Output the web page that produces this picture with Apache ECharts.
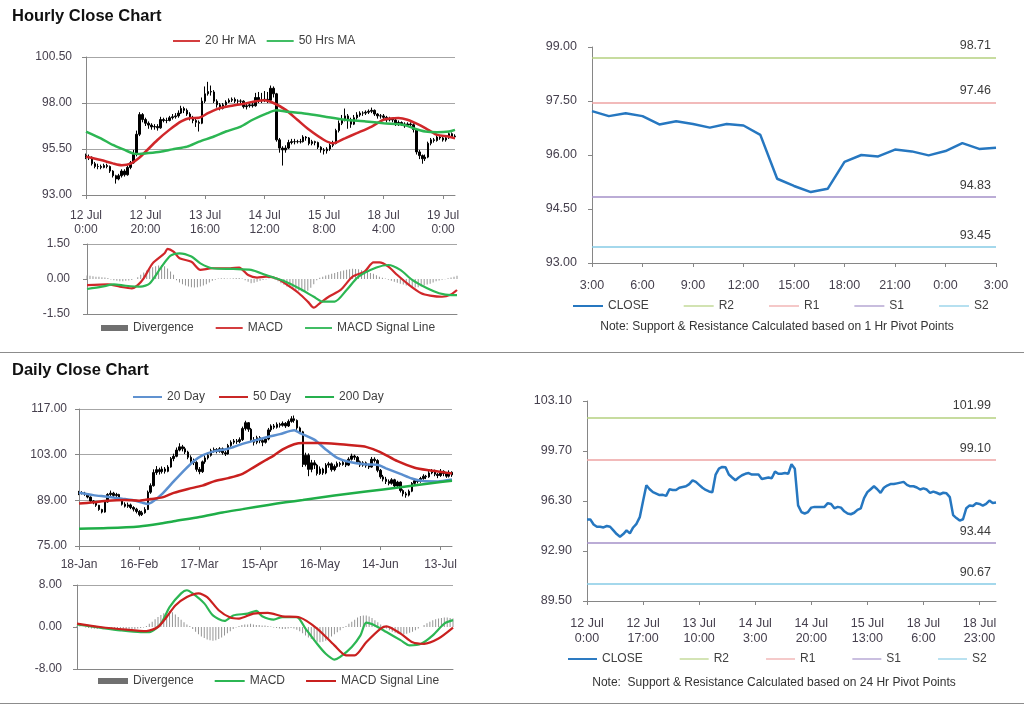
<!DOCTYPE html>
<html><head><meta charset="utf-8">
<script src="https://cdn.jsdelivr.net/npm/echarts@6/dist/echarts.min.js"></script>
<style>html,body{margin:0;padding:0;background:#fff}#c{width:1024px;height:706px}</style>
</head><body><div id="c"></div>
<script>
// ---------------- DATA ----------------
const hourTickLabels = ['12 Jul\n0:00','12 Jul\n20:00','13 Jul\n16:00','14 Jul\n12:00','15 Jul\n8:00','18 Jul\n4:00','19 Jul\n0:00'];
const pivotHourTickLabels = ['3:00','6:00','9:00','12:00','15:00','18:00','21:00','0:00','3:00'];
const hourCloseTickLabels = ['12 Jul\n0:00','12 Jul\n17:00','13 Jul\n10:00','14 Jul\n3:00','14 Jul\n20:00','15 Jul\n13:00','18 Jul\n6:00','18 Jul\n23:00'];
const dayTickLabels = ['18-Jan','16-Feb','17-Mar','15-Apr','16-May','14-Jun','13-Jul'];

const hourYTicks = [93, 95.5, 98, 100.5];
const hourMacdTicks = [-1.5, 0, 1.5];
const pivotHourYTicks = [93, 94.5, 96, 97.5, 99];
const dayYTicks = [75, 89, 103, 117];
const dayMacdTicks = [-8, 0, 8];
const pivotDayYTicks = [89.5, 92.9, 96.3, 99.7, 103.1];

const pivotNames = ['R2','R1','S1','S2'];
const hourPivotValues = [98.71, 97.46, 94.83, 93.45];
const dayPivotValues = [101.99, 99.10, 93.44, 90.67];

const hourOpen = [95.15,95.05,95.05,94.70,94.55,94.55,94.50,94.60,94.55,94.30,
 94.05,93.87,94.05,94.30,94.10,94.50,94.75,95.20,96.30,97.37,
 97.10,96.90,96.80,96.70,96.72,96.65,97.10,97.05,97.05,97.20,
 97.25,97.30,97.45,97.70,97.60,97.40,97.20,97.05,96.95,96.90,
 98.10,98.50,98.62,98.60,98.10,97.90,97.71,97.90,98.05,98.15,
 98.20,98.10,98.10,98.10,97.80,97.85,97.90,97.85,98.30,98.15,
 98.15,98.20,98.15,98.80,98.50,96.00,95.55,95.45,95.55,95.85,
 95.90,95.90,95.90,95.90,96.15,96.10,95.80,95.90,95.85,95.60,
 95.45,95.40,95.50,95.70,95.80,96.50,96.90,97.10,97.30,97.10,
 96.85,97.20,97.35,97.45,97.45,97.50,97.55,97.60,97.40,97.30,
 97.30,97.22,97.08,97.16,97.08,96.85,96.94,96.86,96.76,96.86,
 96.82,96.56,95.34,95.14,94.97,95.06,95.81,96.00,95.96,96.15,
 96.10,95.99,96.11,96.33,96.17];
const hourClose = [95.05,95.05,94.70,94.55,94.55,94.50,94.60,94.55,94.30,94.05,
 93.87,94.05,94.30,94.10,94.50,94.75,95.20,96.30,97.37,97.10,
 96.90,96.80,96.70,96.72,96.65,97.10,97.05,97.05,97.20,97.25,
 97.30,97.45,97.70,97.60,97.40,97.20,97.05,96.95,96.90,98.10,
 98.50,98.62,98.60,98.10,97.90,97.71,97.90,98.05,98.15,98.20,
 98.10,98.10,98.10,97.80,97.85,97.90,97.85,98.30,98.15,98.15,
 98.20,98.15,98.80,98.50,96.00,95.55,95.45,95.55,95.85,95.90,
 95.90,95.90,95.90,96.15,96.10,95.80,95.90,95.85,95.60,95.45,
 95.40,95.50,95.70,95.80,96.50,96.90,97.10,97.30,97.10,96.85,
 97.20,97.35,97.45,97.45,97.50,97.55,97.60,97.40,97.30,97.30,
 97.22,97.08,97.16,97.08,96.85,96.94,96.86,96.76,96.86,96.82,
 96.56,95.34,95.14,94.97,95.06,95.81,96.00,95.96,96.15,96.10,
 95.99,96.11,96.33,96.17,96.20];
const hourLow = [94.95,94.90,94.60,94.45,94.40,94.40,94.45,94.45,94.20,93.95,
 93.62,93.80,93.95,94.00,94.05,94.40,94.70,95.10,96.20,96.95,
 96.75,96.60,96.55,96.55,96.50,96.60,96.95,96.90,97.00,97.10,
 97.15,97.20,97.40,97.45,97.30,97.05,96.90,96.70,96.45,96.85,
 98.00,98.40,98.40,98.00,97.75,97.60,97.65,97.85,98.00,98.05,
 98.00,97.95,97.95,97.70,97.65,97.75,97.75,97.80,98.00,98.00,
 98.05,98.00,98.10,98.30,95.90,95.30,94.60,95.30,95.50,95.75,
 95.75,95.80,95.80,95.85,95.95,95.70,95.70,95.70,95.50,95.30,
 95.20,95.25,95.40,95.60,95.75,96.40,96.80,97.00,96.60,96.65,
 96.80,97.10,97.25,97.30,97.35,97.40,97.45,97.30,97.15,97.15,
 97.10,96.95,97.00,96.95,96.75,96.75,96.75,96.65,96.70,96.70,
 96.40,95.20,94.95,94.70,94.85,95.00,95.70,95.85,95.90,96.00,
 95.90,95.90,96.05,96.10,96.05];
const hourHigh = [95.25,95.20,95.10,94.80,94.70,94.65,94.70,94.70,94.60,94.35,
 94.10,94.15,94.40,94.40,94.60,94.85,95.45,96.50,97.50,97.45,
 97.20,97.00,96.90,96.85,96.85,97.25,97.20,97.20,97.30,97.40,
 97.45,97.60,97.85,97.80,97.70,97.50,97.30,97.15,97.05,98.30,
 98.90,99.15,98.95,98.70,98.20,98.00,98.00,98.15,98.25,98.30,
 98.30,98.20,98.20,98.15,97.95,98.05,98.10,98.55,98.60,98.55,
 98.65,98.60,98.95,98.90,98.55,96.10,95.65,95.70,96.00,96.05,
 96.05,96.00,96.05,96.25,96.20,96.15,96.00,95.95,95.90,95.65,
 95.55,95.60,95.80,95.95,96.60,97.05,97.35,97.70,97.40,97.20,
 97.35,97.50,97.55,97.55,97.60,97.65,97.75,97.65,97.45,97.40,
 97.40,97.30,97.25,97.20,97.15,97.05,97.00,96.95,96.95,96.95,
 96.90,96.60,95.45,95.20,95.20,95.90,96.10,96.10,96.25,96.20,
 96.20,96.20,96.40,96.40,96.30];

// moving averages read at points along the lines: [hour index, value]
const hourMA20 = [[0,95.08],[5,94.9],[9,94.72],[12,94.62],[15,94.7],[18,95.04],[20,95.35],[24,95.99],[28,96.54],[32,97.0],[35,97.18],[38,97.2],[41,97.45],[44,97.67],[48,97.82],[53,97.96],[57,98.09],[60,98.15],[63,98.0],[67,97.64],[71,97.09],[75,96.54],[80,95.99],[83,95.81],[87,96.08],[91,96.36],[96,96.72],[100,97.09],[105,97.18],[108,97.09],[112,96.81],[115,96.54],[118,96.27],[122,96.17],[124,96.08]];
const hourMA50 = [[0,96.45],[5,96.08],[9,95.72],[13,95.45],[16,95.25],[18,95.23],[20,95.26],[25,95.35],[29,95.48],[34,95.63],[38,95.9],[43,96.18],[47,96.45],[52,96.72],[56,97.09],[61,97.45],[64,97.6],[67,97.54],[74,97.42],[80,97.27],[87,97.09],[94,97.0],[100,96.9],[107,96.81],[110,96.63],[114,96.45],[118,96.41],[122,96.45],[124,96.54]];

const hourMacd = [[0,-0.26],[7,-0.23],[11,-0.33],[15,-0.4],[17,-0.26],[19,0.03],[22,0.67],[26,1.1],[27,1.29],[29,1.17],[31,0.89],[35,0.74],[38,0.39],[42,0.46],[48,0.46],[51,0.49],[54,0.17],[57,0.06],[60,0.1],[64,0.0],[68,-0.33],[71,-0.61],[74,-0.97],[76,-1.23],[78,-1.04],[81,-0.76],[85,-0.47],[89,0.1],[93,0.31],[96,0.71],[98,0.71],[101,0.53],[104,0.17],[108,-0.26],[112,-0.61],[115,-0.71],[119,-0.76],[122,-0.66],[124,-0.47]];
const hourSignal = [[0,-0.43],[5,-0.33],[9,-0.23],[13,-0.29],[18,-0.33],[21,-0.19],[25,0.53],[28,1.0],[31,1.1],[35,0.96],[38,0.67],[42,0.46],[49,0.43],[55,0.39],[60,0.17],[66,-0.09],[71,-0.4],[76,-0.76],[79,-0.97],[83,-0.97],[87,-0.47],[91,0.1],[97,0.49],[101,0.6],[105,0.39],[109,-0.04],[114,-0.4],[118,-0.61],[122,-0.69],[124,-0.69]];
const hourDivergence = [0.15,0.14,0.12,0.10,0.10,0.08,0.06,0.04,
 -0.02,-0.05,-0.08,-0.10,-0.10,-0.08,-0.06,-0.04,0.0,
 0.08,0.18,0.28,0.36,0.44,0.50,0.55,0.58,0.60,0.55,0.45,0.32,0.18,
 -0.05,-0.15,-0.22,-0.28,-0.32,-0.35,-0.36,-0.35,-0.32,-0.28,-0.22,-0.15,-0.08,-0.03,
 0.02,0.03,0.03,0.02,0.02,0.03,0.04,0.04,0.02,
 -0.05,-0.12,-0.18,-0.16,-0.12,-0.08,-0.04,-0.02,0.02,0.01,-0.03,
 -0.10,-0.18,-0.25,-0.32,-0.38,-0.42,-0.46,-0.50,-0.52,-0.55,-0.50,-0.38,-0.22,-0.05,
 0.05,0.10,0.15,0.18,0.22,0.26,0.30,0.33,0.36,0.40,0.42,0.44,0.43,0.42,0.38,0.34,0.30,0.26,0.22,0.16,0.10,0.05,0.02,
 -0.03,-0.08,-0.12,-0.16,-0.20,-0.24,-0.28,-0.30,-0.33,-0.36,-0.35,-0.32,-0.28,-0.24,-0.20,-0.15,-0.10,-0.06,-0.03,-0.01,
 0.03,0.06,0.10,0.14];

const dayOpen = [91.0,91.4,91.2,91.0,90.0,88.8,88.3,87.5,86.2,85.4,
 88.5,90.8,91.2,90.5,90.8,89.2,87.8,87.2,87.6,86.8,
 86.3,85.6,84.6,85.2,86.2,91.5,93.5,97.5,98.4,97.8,
 98.6,97.9,99.2,101.8,102.5,104.4,105.4,104.8,103.8,102.2,
 101.0,100.6,98.5,97.8,100.8,102.0,102.8,104.2,104.6,104.0,
 104.8,103.6,103.2,105.8,106.8,107.2,107.0,107.6,111.0,112.8,
 110.8,107.6,106.8,108.2,107.3,106.8,107.8,110.6,111.8,111.4,
 112.3,112.0,112.6,111.8,113.2,114.0,113.5,111.2,110.0,100.0,
 102.8,98.5,100.5,99.8,97.2,98.6,97.4,99.8,100.2,98.4,
 99.4,100.3,100.0,100.6,99.8,101.6,102.6,102.2,100.8,99.8,
 100.5,99.6,99.2,101.6,101.2,98.2,96.2,95.5,94.8,94.2,
 95.3,93.4,94.6,92.0,91.0,90.6,91.8,94.2,95.0,94.8,
 95.7,96.4,96.2,97.4,98.0,97.0,96.6,97.9,97.2,96.4,
 97.6];
const dayClose = [91.4,91.2,91.0,90.0,88.8,88.3,87.5,86.2,85.4,88.5,
 90.8,91.2,90.5,90.8,89.2,87.8,87.2,87.6,86.8,86.3,
 85.6,84.6,85.2,86.2,91.5,93.5,97.5,98.4,97.8,98.6,
 97.9,99.2,101.8,102.5,104.4,105.4,104.8,103.8,102.2,101.0,
 100.6,98.5,97.8,100.8,102.0,102.8,104.2,104.6,104.0,104.8,
 103.6,103.2,105.8,106.8,107.2,107.0,107.6,111.0,112.8,110.8,
 107.6,106.8,108.2,107.3,106.8,107.8,110.6,111.8,111.4,112.3,
 112.0,112.6,111.8,113.2,114.0,113.5,111.2,110.0,100.0,102.8,
 98.5,100.5,99.8,97.2,98.6,97.4,99.8,100.2,98.4,99.4,
 100.3,100.0,100.6,99.8,101.6,102.6,102.2,100.8,99.8,100.5,
 99.6,99.2,101.6,101.2,98.2,96.2,95.5,94.8,94.2,95.3,
 93.4,94.6,92.0,91.0,90.6,91.8,94.2,95.0,94.8,95.7,
 96.4,96.2,97.4,98.0,97.0,96.6,97.9,97.2,96.4,97.6,
 96.8];
const dayLow = [90.6,90.8,90.4,89.6,88.4,87.8,87.0,85.8,85.0,85.2,
 88.3,90.3,90.0,90.0,88.8,87.4,86.8,86.7,86.3,85.6,
 85.0,84.1,84.2,84.9,86.0,91.0,93.2,96.8,96.9,97.2,
 97.2,97.6,99.0,101.0,102.2,104.0,104.0,103.2,101.6,100.4,
 99.8,97.8,97.0,97.4,100.2,101.5,102.4,103.6,103.4,103.6,
 103.0,102.6,103.0,105.4,106.2,106.3,106.5,107.2,110.4,110.0,
 107.0,105.8,106.2,106.5,105.6,106.4,107.4,110.0,110.8,111.0,
 111.3,111.6,111.2,111.5,112.8,112.8,110.6,109.4,99.2,99.4,
 96.4,97.6,98.6,96.6,96.8,96.8,97.0,99.0,97.8,97.9,
 99.0,99.3,99.6,99.2,99.5,101.2,101.4,100.2,99.2,99.3,
 99.0,98.6,99.0,100.6,97.6,95.6,94.8,94.0,93.6,93.8,
 92.8,93.0,91.4,90.2,89.8,90.2,91.5,93.7,94.2,94.4,
 95.3,95.5,95.9,97.0,96.4,95.8,96.2,96.4,95.9,96.0,
 96.2];
const dayHigh = [91.9,91.8,91.6,91.2,90.2,89.0,88.6,87.6,86.4,88.8,
 91.2,92.0,91.6,91.3,91.0,89.4,88.4,88.3,88.0,87.2,
 86.7,86.0,85.8,86.9,92.0,94.2,98.5,99.5,99.0,99.4,
 99.2,99.8,102.3,103.3,105.2,106.5,106.0,105.4,104.2,102.8,
 101.8,101.0,99.2,101.2,102.8,103.4,104.8,105.2,105.0,105.3,
 105.2,104.2,106.3,107.4,107.8,107.8,108.3,111.6,113.4,113.0,
 111.2,108.4,108.8,108.7,107.8,108.4,111.2,112.3,112.4,112.9,
 112.8,113.2,113.0,113.8,114.8,115.0,113.8,111.6,110.3,103.6,
 103.4,101.4,101.3,100.2,99.4,99.0,100.4,100.8,100.6,100.0,
 100.9,100.8,101.2,101.0,102.2,103.3,103.0,102.6,101.2,101.0,
 100.9,100.2,102.3,102.2,101.6,98.6,96.8,96.2,95.4,95.8,
 95.6,95.0,94.8,92.4,91.6,92.3,94.6,95.6,95.4,96.2,
 97.0,96.8,98.0,98.6,98.4,97.4,98.6,98.2,97.6,98.2,
 97.9];

const dayMA20 = [[0,91.3],[5,90.6],[10,90.1],[15,89.5],[19,89.0],[22,88.3],[24,87.9],[26,88.8],[29,91.0],[33,94.8],[37,98.5],[40,101.0],[43,102.8],[47,104.0],[52,104.8],[56,106.0],[61,107.3],[66,108.5],[70,109.3],[75,110.5],[77,109.6],[82,107.6],[86,104.6],[90,102.0],[94,100.8],[100,100.0],[104,99.9],[107,98.8],[112,97.1],[116,95.7],[120,94.9],[125,94.8],[130,95.4]];
const dayMA50 = [[0,88.0],[5,88.4],[10,88.9],[16,89.1],[21,88.9],[25,89.4],[29,89.9],[33,91.3],[38,92.5],[43,93.5],[47,94.8],[52,95.8],[57,97.1],[61,99.2],[65,101.3],[68,102.8],[71,104.6],[75,106.2],[78,106.6],[84,106.6],[90,106.3],[96,105.8],[100,105.4],[105,103.8],[111,101.0],[117,99.0],[122,98.2],[127,97.6],[130,97.2]];
const dayMA200 = [[0,80.3],[10,80.5],[21,81.0],[28,81.8],[33,82.6],[42,83.9],[50,85.3],[57,86.3],[66,87.6],[72,88.4],[78,89.1],[89,90.5],[100,91.7],[112,93.0],[124,94.4],[130,95.0]];

const dayMacd = [[0,0.5],[8,-0.13],[15,-0.64],[22,-0.96],[25,-0.96],[29,0.64],[32,3.8],[36,6.4],[38,7.0],[40,6.4],[44,4.5],[47,2.2],[51,1.15],[54,2.2],[59,2.55],[62,3.06],[64,2.04],[68,1.4],[71,1.9],[76,1.9],[79,-0.3],[83,-3.2],[86,-5.1],[89,-6.2],[91,-5.7],[95,-3.8],[98,-1.6],[100,0.83],[103,0.3],[107,-0.96],[112,-2.55],[115,-3.5],[119,-3.2],[123,-1.6],[127,0.64],[130,1.3]];
const daySignal = [[0,0.64],[8,0],[17,-0.5],[24,-0.77],[28,0],[31,1.9],[34,4.1],[38,5.7],[42,6.4],[45,5.7],[49,3.2],[53,1.8],[56,1.6],[61,2.55],[66,2.7],[71,2.04],[77,1.8],[83,-0.3],[89,-3.5],[93,-5.4],[96,-5.4],[100,-2.9],[105,-0.3],[107,0.13],[112,-1.3],[116,-2.9],[120,-3.2],[125,-2.2],[130,-0.13]];
const dayDivergence = [0.2,0.1,0,-0.1,-0.2,
 -0.3,-0.35,-0.4,-0.4,-0.45,-0.4,-0.35,-0.3,-0.3,-0.25,-0.3,-0.35,-0.4,-0.4,-0.45,-0.4,-0.3,-0.2,-0.1,0.2,0.6,
 1.0,1.5,1.9,2.3,2.6,2.9,3.0,2.8,2.4,1.9,1.4,0.9,0.5,0.2,
 -0.4,-0.9,-1.4,-1.8,-2.1,-2.4,-2.5,-2.6,-2.5,-2.3,-2.0,-1.6,-1.2,-0.8,-0.4,-0.1,
 0.2,0.4,0.5,0.5,0.6,0.5,0.4,0.4,0.3,0.3,0.2,0.1,
 -0.1,-0.2,-0.3,-0.4,-0.4,-0.3,-0.2,-0.3,-0.5,-0.8,
 -1.2,-1.6,-2.0,-2.3,-2.6,-2.8,-2.9,-2.8,-2.6,-2.2,-1.8,-1.4,-1.0,-0.6,-0.2,0.2,
 0.6,1.0,1.4,1.8,2.1,2.2,2.2,2.0,1.7,1.3,0.9,0.5,0.1,
 -0.3,-0.6,-0.9,-1.1,-1.3,-1.3,-1.4,-1.3,-1.1,-0.9,-0.6,-0.3,0.0,
 0.4,0.7,1.0,1.3,1.5,1.6,1.7,1.8,1.8,1.7,1.6];

// ---------------- CHART ----------------
const FONT = '"Liberation Sans", Arial, sans-serif';
const TXT = '#46404e';
const AX = '#868686';
const GRIDC = '#a6a6a6';
const LINE_ICON = 'path://M0,0H30V2H0Z';
const THIN_ICON = 'path://M0,0H30V1.2H0Z';
const pivotColors = ['#b4d17f', '#eea3a3', '#a491c9', '#86cbe6'];

const idx = n => Array.from({length: n}, (_, i) => i);
const ohlc = (o, c, l, h) => o.map((v, i) => [v, c[i], l[i], h[i]]);
const nH = hourClose.length, nD = dayClose.length;
const pivotClose = hourClose.slice(-25);

function catX(gridIndex, n, labels, step, margin, showLabels, fs, lh) {
  return {
    type: 'category', gridIndex, data: idx(n), boundaryGap: false,
    axisLine: {show: true, onZero: false, lineStyle: {color: AX}},
    axisTick: {show: showLabels, interval: step - 1, length: 4, lineStyle: {color: AX}},
    axisLabel: {show: showLabels, interval: step - 1, formatter: (v, i) => labels[Math.round(i / step)] || '',
      color: TXT, fontSize: fs || 12, fontFamily: FONT, lineHeight: lh || 14, margin},
    splitLine: {show: false}
  };
}
function valY(gridIndex, ticks, margin, split, fs) {
  return {
    type: 'value', gridIndex, min: ticks[0], max: ticks[ticks.length - 1],
    axisLine: {show: true, lineStyle: {color: AX}},
    axisTick: {show: true, length: 4, customValues: ticks, lineStyle: {color: AX}},
    axisLabel: {customValues: ticks, formatter: v => v.toFixed(2), color: TXT, fontSize: fs || 12, fontFamily: FONT, margin},
    splitLine: split ? {show: true, lineStyle: {color: split, width: 1}} : {show: false}
  };
}
function line(name, xi, data, color, width, smooth) {
  return {type: 'line', name, xAxisIndex: xi, yAxisIndex: xi, data, color, symbol: 'none', showSymbol: false,
    smooth: smooth === undefined ? 0.25 : smooth, lineStyle: {color, width: width || 2.5}, z: 3};
}
function candles(name, xi, data) {
  return {type: 'candlestick', name, xAxisIndex: xi, yAxisIndex: xi, data, barWidth: 2,
    itemStyle: {color: '#000', color0: '#000', borderColor: '#000', borderColor0: '#000', borderWidth: 1}, z: 2};
}
function bars(name, xi, data) {
  return {type: 'bar', name, xAxisIndex: xi, yAxisIndex: xi, data, barWidth: 1, color: '#959595', z: 1};
}
function pivot(name, xi, value, color) {
  return {type: 'line', name, xAxisIndex: xi, yAxisIndex: xi, data: [], color, symbol: 'none',
    markLine: {silent: true, symbol: ['none', 'none'], animation: false,
      lineStyle: {color, width: 1.5, type: 'solid'},
      label: {show: true, position: 'insideEndTop', formatter: p => p.value.toFixed(2),
        color: '#3c3c3c', fontSize: 12.5, fontFamily: FONT},
      data: [{yAxis: value}]}};
}
function legend(left, top, gap, itemWidth, items) {
  return {left, top, padding: 0, itemGap: gap, itemWidth, itemHeight: 6, selectedMode: false,
    textStyle: {color: '#404040', fontSize: 12, fontFamily: FONT},
    formatter: n => n.split('|')[0], data: items};
}

const series = [
  candles('hourly', 0, ohlc(hourOpen, hourClose, hourLow, hourHigh)),
  line('20 Hr MA', 0, hourMA20, '#d0272a'),
  line('50 Hrs MA', 0, hourMA50, '#2cb653'),
  bars('Divergence|h', 1, hourDivergence),
  line('MACD|h', 1, hourMacd, '#d0272a', 2.2),
  line('MACD Signal Line|h', 1, hourSignal, '#2cb653', 2.2),
  line('CLOSE|h', 2, pivotClose, '#2677c0', 2.5, false),
  candles('daily', 3, ohlc(dayOpen, dayClose, dayLow, dayHigh)),
  line('20 Day', 3, dayMA20, '#5b8fcf'),
  line('50 Day', 3, dayMA50, '#c9201f'),
  line('200 Day', 3, dayMA200, '#1fae48'),
  bars('Divergence|d', 4, dayDivergence),
  line('MACD|d', 4, dayMacd, '#2cb653', 2.2),
  line('MACD Signal Line|d', 4, daySignal, '#c9201f', 2.2),
  line('CLOSE|d', 5, hourClose, '#2677c0', 2.5, false)
];
pivotNames.forEach((n, i) => series.push(pivot(n + '|h', 2, hourPivotValues[i], pivotColors[i])));
pivotNames.forEach((n, i) => series.push(pivot(n + '|d', 5, dayPivotValues[i], pivotColors[i])));

const lineItem = n => ({name: n, icon: LINE_ICON});
const thinItem = n => ({name: n, icon: THIN_ICON});
const divItem = n => ({name: n, icon: 'rect', itemStyle: {color: '#707070'}});

const option = {
  animation: false,
  textStyle: {fontFamily: FONT},
  grid: [
    {left: 86, top: 57, width: 369, height: 138},
    {left: 87, top: 244, width: 370, height: 70},
    {left: 592, top: 47, width: 404, height: 216},
    {left: 79, top: 409, width: 373, height: 137},
    {left: 77, top: 585, width: 376, height: 84},
    {left: 587, top: 401, width: 409, height: 200}
  ],
  xAxis: [
    catX(0, nH, hourTickLabels, 20, 14, true, 12, 14),
    catX(1, nH, [], 20, 0, false),
    catX(2, pivotClose.length, pivotHourTickLabels, 3, 16, true, 12.5),
    catX(3, nD, dayTickLabels, 21, 12, true, 12),
    catX(4, nD, [], 21, 0, false),
    catX(5, nH, hourCloseTickLabels, 17, 15, true, 12.5, 15)
  ],
  yAxis: [
    valY(0, hourYTicks, 14, GRIDC),
    Object.assign(valY(1, hourMacdTicks, 17, null), {splitLine: {show: true, lineStyle: {color: [GRIDC, 'rgba(0,0,0,0)', GRIDC]}}}),
    valY(2, pivotHourYTicks, 15, null, 12.5),
    valY(3, dayYTicks, 12, GRIDC),
    Object.assign(valY(4, dayMacdTicks, 15, null), {splitLine: {show: true, lineStyle: {color: [GRIDC, 'rgba(0,0,0,0)', GRIDC]}}}),
    valY(5, pivotDayYTicks, 15, null, 12.5)
  ],
  legend: [
    legend(173, 35, 11, 27, ['20 Hr MA', '50 Hrs MA'].map(lineItem)),
    legend(101, 322, 22, 27, [divItem('Divergence|h'), lineItem('MACD|h'), lineItem('MACD Signal Line|h')]),
    legend(573, 300, 35, 30, [lineItem('CLOSE|h')].concat(pivotNames.map(n => thinItem(n + '|h')))),
    legend(133, 391, 14, 29, ['20 Day', '50 Day', '200 Day'].map(lineItem)),
    legend(98, 675, 21, 30, [divItem('Divergence|d'), lineItem('MACD|d'), lineItem('MACD Signal Line|d')]),
    legend(568, 653, 37, 29, [lineItem('CLOSE|d')].concat(pivotNames.map(n => thinItem(n + '|d'))))
  ],
  graphic: [
    {type: 'text', x: 12, y: 8, style: {text: 'Hourly Close Chart', font: 'bold 16.5px "Liberation Sans", Arial', fill: '#111'}},
    {type: 'text', x: 12, y: 362, style: {text: 'Daily Close Chart', font: 'bold 16.5px "Liberation Sans", Arial', fill: '#111'}},
    {type: 'line', shape: {x1: 0, y1: 352.5, x2: 1024, y2: 352.5}, style: {stroke: '#8c8c8c', lineWidth: 1}},
    {type: 'line', shape: {x1: 0, y1: 703.5, x2: 1024, y2: 703.5}, style: {stroke: '#8c8c8c', lineWidth: 1}},
    {type: 'text', x: 777, y: 327, style: {text: 'Note: Support & Resistance Calculated based on 1 Hr Pivot Points',
      font: '12px "Liberation Sans", Arial', fill: '#333', align: 'center', verticalAlign: 'middle'}},
    {type: 'text', x: 774, y: 683, style: {text: 'Note:  Support & Resistance Calculated based on 24 Hr Pivot Points',
      font: '12px "Liberation Sans", Arial', fill: '#333', align: 'center', verticalAlign: 'middle'}}
  ],
  series
};
const chart = echarts.init(document.getElementById('c'), null, {renderer: 'canvas'});
chart.setOption(option);
</script></body></html>
